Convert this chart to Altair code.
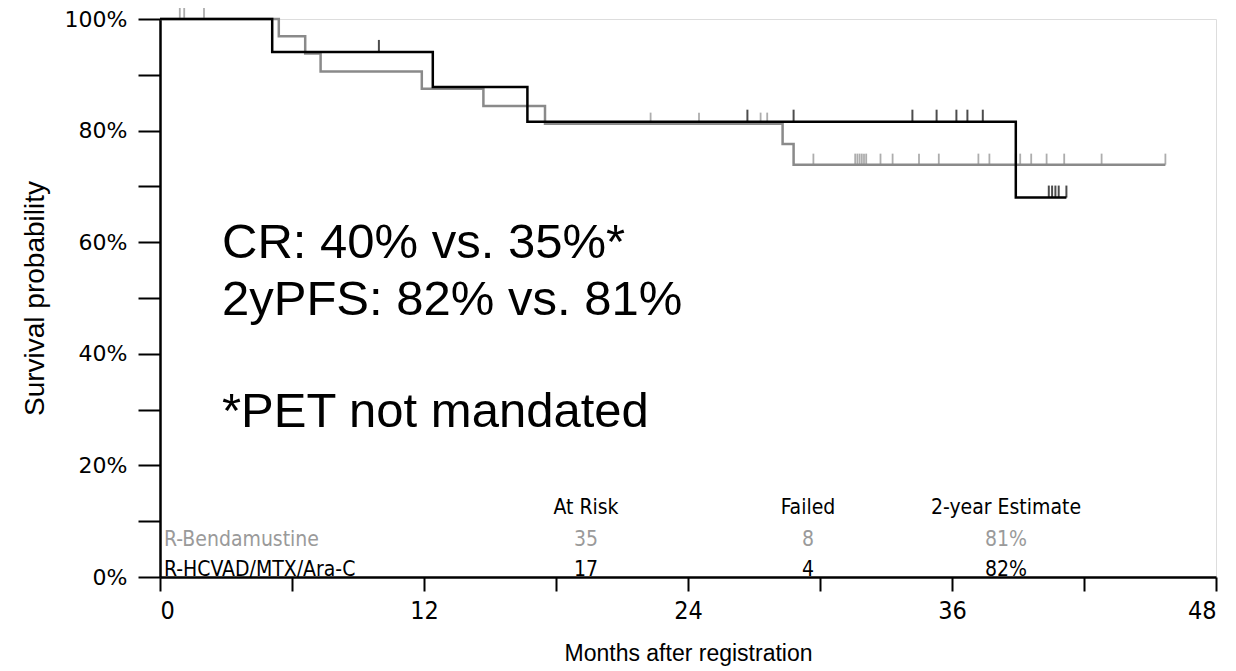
import altair as alt
import pandas as pd

# ---- Kaplan-Meier step data ----
black_name = "R-HCVAD/MTX/Ara-C"
black_times = [0, 5.1, 12.4, 16.7, 38.9, 41.2]
black_surv = [1.0, 0.941, 0.878, 0.816, 0.680, 0.680]
black_censor = [9.95, 26.7, 28.8, 34.2, 35.3, 36.2, 36.7, 37.4,
                40.4, 40.55, 40.7, 40.85, 41.2]

gray_name = "R-Bendamustine"
gray_times = [0, 5.4, 6.6, 7.3, 11.9, 14.7, 17.5, 28.3, 28.8, 45.7]
gray_surv = [1.0, 0.969, 0.938, 0.906, 0.875, 0.844, 0.8125, 0.776, 0.739, 0.739]
gray_censor = [0.9, 1.1, 2.0, 22.3, 24.5, 27.3, 27.6, 29.7,
               31.6, 31.7, 31.8, 31.9, 32.0, 32.1, 32.75, 33.3, 34.5, 35.4,
               37.2, 37.7, 38.9, 39.1, 39.6, 40.3, 41.1, 42.8, 45.7]

# ---- table ----
table_header = ["At Risk", "Failed", "2-year Estimate"]
table_groups = [gray_name, black_name]
at_risk = ["35", "17"]
failed = ["8", "4"]
estimate = ["81%", "82%"]

notes = ["CR: 40% vs. 35%*", "2yPFS: 82% vs. 81%", "*PET not mandated"]

y_ticks = [0, 0.1, 0.2, 0.3, 0.4, 0.5, 0.6, 0.7, 0.8, 0.9, 1.0]
x_ticks = [0, 6, 12, 18, 24, 30, 36, 42, 48]

GRAY = "#8a8a8a"
BLACK = "#000000"
GRAY_TXT = "#9a9a9a"
COND = "DejaVu Sans Condensed, DejaVu Sans, sans-serif"


def surv_at(t, times, surv):
    s = surv[0]
    for ti, si in zip(times, surv):
        if ti <= t:
            s = si
    return s


def line_df(times, surv):
    return pd.DataFrame({"t": times, "s": surv})


def censor_df(cens, times, surv):
    return pd.DataFrame({"t": cens, "s": [surv_at(c, times, surv) for c in cens]})


TOP = 19
W, H = 1056, 577 - TOP
xs = alt.Scale(domain=[0, 48], nice=False, zero=False)
ys = alt.Scale(domain=[0, 1], nice=False)

x_axis = alt.Axis(values=x_ticks, labelExpr="datum.value % 12 == 0 ? datum.label : ''",
                  title="Months after registration", tickSize=14, tickWidth=2,
                  domainWidth=2.5, domainColor="black", tickColor="black",
                  labelFont=COND, labelFontSize=25, labelColor="black",
                  labelPadding=7, grid=False,
                  titleFont="Liberation Sans", titleFontSize=23, titleFontWeight="normal",
                  titleColor="black", titlePadding=19)
y_axis = alt.Axis(values=y_ticks, format=".0%",
                  labelExpr="round(datum.value*10) % 2 == 0 ? format(datum.value, '.0%') : ''",
                  title="Survival probability", tickSize=22, tickWidth=2,
                  domainWidth=2.5, domainColor="black", tickColor="black",
                  labelFont="DejaVu Sans", labelFontSize=22, labelColor="black",
                  labelPadding=11, grid=False,
                  titleFont="Liberation Sans", titleFontSize=28, titleFontWeight="normal",
                  titleColor="black", titlePadding=15)

gray_line = alt.Chart(line_df(gray_times, gray_surv)).mark_line(
    interpolate="step-after", strokeWidth=2.5, color=GRAY).encode(
    x=alt.X("t:Q", scale=xs, axis=x_axis), y=alt.Y("s:Q", scale=ys, axis=y_axis))
black_line = alt.Chart(line_df(black_times, black_surv)).mark_line(
    interpolate="step-after", strokeWidth=2.5, color=BLACK).encode(
    x=alt.X("t:Q", scale=xs), y=alt.Y("s:Q", scale=ys))

gray_cens = alt.Chart(censor_df(gray_censor, gray_times, gray_surv)).mark_tick(
    orient="vertical", size=11, thickness=1.8, color=GRAY, yOffset=-5.5).encode(
    x=alt.X("t:Q", scale=xs), y=alt.Y("s:Q", scale=ys))
black_cens = alt.Chart(censor_df(black_censor, black_times, black_surv)).mark_tick(
    orient="vertical", size=12, thickness=2, color=BLACK, yOffset=-6).encode(
    x=alt.X("t:Q", scale=xs), y=alt.Y("s:Q", scale=ys))

layers = [gray_line, gray_cens, black_line, black_cens]

# annotation text (absolute page y minus plot top)
note_y = [243 - 17 - (TOP - 17), 300 - TOP, 412 - TOP]
for txt, yy in zip(notes, note_y):
    layers.append(alt.Chart(pd.DataFrame({"label": [txt]})).mark_text(
        align="left", baseline="middle", font="Liberation Sans", fontSize=49, color="black").encode(
        text="label:N", x=alt.value(62), y=alt.value(yy)))

# table
TFONT = COND
TSIZE = 21
col_x = [426, 648, 846]
for h, cx in zip(table_header, col_x):
    layers.append(alt.Chart(pd.DataFrame({"label": [h]})).mark_text(
        align="center", baseline="middle", font=TFONT, fontSize=TSIZE, color="black").encode(
        text="label:N", x=alt.value(cx), y=alt.value(508 - TOP)))

row_y = [540 - TOP, 570 - TOP]
row_col = [GRAY_TXT, BLACK]
for i in range(2):
    layers.append(alt.Chart(pd.DataFrame({"label": [table_groups[i]]})).mark_text(
        align="left", baseline="middle", font=TFONT, fontSize=TSIZE, color=row_col[i]).encode(
        text="label:N", x=alt.value(4), y=alt.value(row_y[i])))
    for val, cx in zip([at_risk[i], failed[i], estimate[i]], col_x):
        layers.append(alt.Chart(pd.DataFrame({"label": [val]})).mark_text(
            align="center", baseline="middle", font=TFONT, fontSize=TSIZE, color=row_col[i]).encode(
            text="label:N", x=alt.value(cx), y=alt.value(row_y[i])))

chart = alt.layer(*layers).properties(
    width=W, height=H,
    autosize=alt.AutoSizeParams(type="none"),
    padding={"left": 152, "top": TOP - 8, "right": 12, "bottom": 94},
).configure_view(stroke=None).configure(background="white")

chart.save("out.html", embed_options={"renderer": "svg", "actions": False})
